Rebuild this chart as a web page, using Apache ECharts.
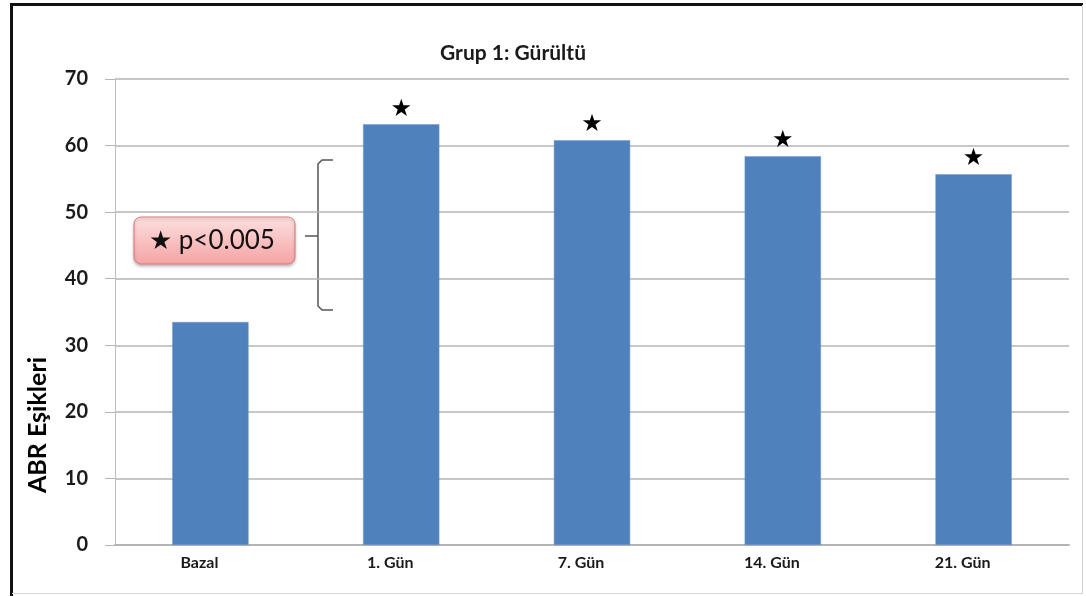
<!DOCTYPE html>
<html>
<head>
<meta charset="utf-8">
<script src="https://cdn.jsdelivr.net/npm/echarts@6/dist/echarts.min.js"></script>
<style>
  html, body { margin: 0; padding: 0; background: #fff; }
  #chart { width: 1086px; height: 596px; }
</style>
</head>
<body>
<div id="chart"></div>
<script>
// data
const categories = ['Bazal', '1. Gün', '7. Gün', '14. Gün', '21. Gün']
const values = [33.5, 63.2, 60.8, 58.4, 55.7]
const marks = ['', '★', '★', '★', '★']
const yTicks = [0, 10, 20, 30, 40, 50, 60, 70]

const font = 'Lato, "Open Sans", sans-serif'
const chart = echarts.init(document.getElementById('chart'))

const option = {
  animation: false,
  backgroundColor: '#fff',
  title: {
    text: 'Grup 1: Gürültü',
    left: 508,
    top: 38,
    textAlign: 'center',
    textStyle: { fontFamily: font, fontWeight: 'bold', fontSize: 21, color: '#1a1a1a' }
  },
  grid: { left: 115, right: 17, top: 79, bottom: 51 },
  xAxis: {
    type: 'category',
    data: categories,
    axisLine: { lineStyle: { color: '#b4b4b4', width: 2 } },
    axisTick: { show: false },
    axisLabel: {
      fontFamily: font, fontWeight: 'bold', fontSize: 16, color: '#1a1a1a', margin: 10,
      padding: [0, 22, 0, 0]
    }
  },
  yAxis: {
    type: 'value',
    min: yTicks[0],
    max: yTicks[yTicks.length - 1],
    interval: 10,
    axisLine: { show: true, lineStyle: { color: '#bdbdbd' } },
    axisTick: { show: true, length: 10, lineStyle: { color: '#b4b4b4' } },
    splitLine: { lineStyle: { color: '#b4b4b4', width: 1.5 } },
    axisLabel: {
      fontFamily: font, fontWeight: 'bold', fontSize: 20, color: '#1a1a1a', margin: 27
    }
  },
  series: [{
    type: 'bar',
    data: values,
    barWidth: '40%',
    itemStyle: { color: '#4f81bd', borderColor: '#6f9bd0', borderWidth: 0.5 },
    label: {
      show: true,
      position: 'top',
      distance: 3,
      formatter: p => marks[p.dataIndex],
      fontFamily: '"DejaVu Sans", sans-serif',
      fontSize: 24,
      color: '#000'
    }
  }],
  graphic: [
    // frame
    { type: 'rect', shape: { x: 10, y: 3, width: 3, height: 593 }, style: { fill: '#111' } },
    { type: 'rect', shape: { x: 10, y: 3, width: 1073, height: 3 }, style: { fill: '#111' } },
    { type: 'rect', shape: { x: 1082, y: 5, width: 1, height: 589 }, style: { fill: '#cfcfcf' } },
    { type: 'rect', shape: { x: 12, y: 593, width: 1071, height: 1 }, style: { fill: '#d8d8d8' } },
    // y axis name
    {
      type: 'text',
      x: 38, y: 425,
      rotation: Math.PI / 2,
      style: {
        text: 'ABR Eşikleri',
        font: 'bold 25px ' + font,
        fill: '#000',
        align: 'center',
        verticalAlign: 'middle'
      }
    },
    // p value box
    {
      type: 'rect',
      shape: { x: 134, y: 217, width: 161, height: 47, r: 7 },
      style: {
        fill: new echarts.graphic.LinearGradient(0, 0, 0, 1, [
          { offset: 0, color: '#fde0e0' },
          { offset: 1, color: '#f5a3a3' }
        ]),
        stroke: '#e07a7a',
        lineWidth: 1,
        shadowBlur: 3,
        shadowOffsetY: 2,
        shadowColor: 'rgba(0,0,0,0.25)'
      }
    },
    {
      type: 'text',
      x: 212, y: 241,
      style: {
        text: '★ p<0.005',
        font: '26px ' + font,
        fill: '#111',
        align: 'center',
        verticalAlign: 'middle'
      }
    },
    // bracket
    {
      type: 'polyline',
      shape: { points: [[333, 160], [322, 160], [318, 164], [318, 306], [322, 310], [333, 310]] },
      style: { stroke: '#555', lineWidth: 1.5, fill: null }
    },
    {
      type: 'line',
      shape: { x1: 305, y1: 236, x2: 318, y2: 236 },
      style: { stroke: '#555', lineWidth: 1.5 }
    }
  ]
}

chart.setOption(option)
</script>
</body>
</html>
